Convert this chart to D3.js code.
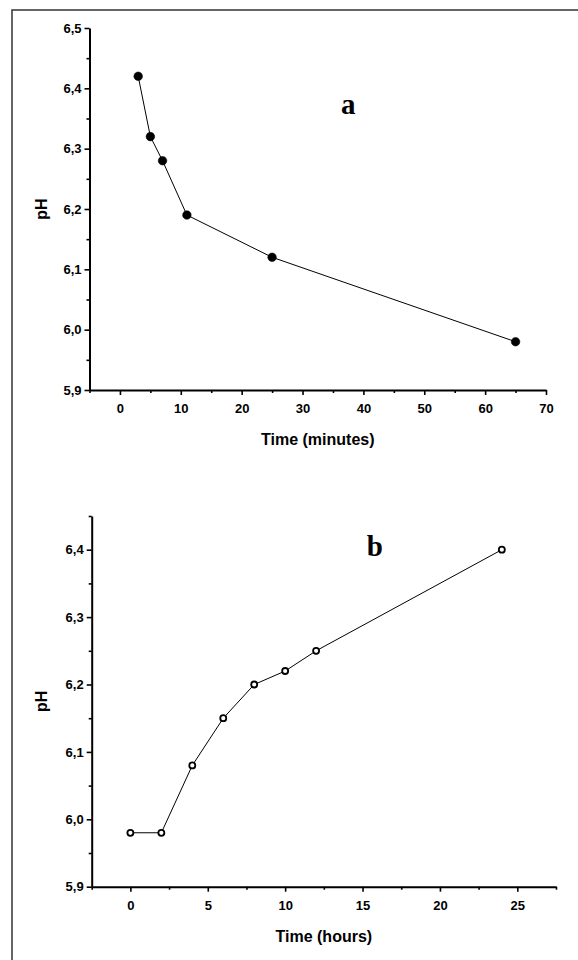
<!DOCTYPE html>
<html>
<head>
<meta charset="utf-8">
<script src="https://cdn.jsdelivr.net/npm/d3@7"></script>
<style>
  html, body { margin: 0; padding: 0; background: #fff; }
  svg { display: block; }
  .tick text { font-family: "Liberation Sans", Arial, sans-serif; font-weight: bold; font-size: 13px; fill: #000; }
  .axis path, .axis line { stroke: #000; }
  .axis path { stroke-width: 2; }
  .axis line { stroke-width: 1.6; }
  .title { font-family: "Liberation Sans", Arial, sans-serif; font-weight: bold; font-size: 16px; fill: #000; }
  .tag { font-family: "Liberation Serif", "Times New Roman", serif; font-weight: bold; font-size: 29px; fill: #000; }
</style>
</head>
<body>
<script>
// panel a : pH vs time in minutes
var minutesA = [3, 5, 7, 11, 25, 65];
var phA = [6.42, 6.32, 6.28, 6.19, 6.12, 5.98];
var xTicksA = [0, 10, 20, 30, 40, 50, 60, 70];
var yTicksA = [5.9, 6.0, 6.1, 6.2, 6.3, 6.4, 6.5];

// panel b : pH vs time in hours
var hoursB = [0, 2, 4, 6, 8, 10, 12, 24];
var phB = [5.98, 5.98, 6.08, 6.15, 6.20, 6.22, 6.25, 6.40];
var xTicksB = [0, 5, 10, 15, 20, 25];
var yTicksB = [5.9, 6.0, 6.1, 6.2, 6.3, 6.4];

var W = 578, H = 960;
var svg = d3.select("body").append("svg").attr("width", W).attr("height", H);

// page frame (left and top edges only)
svg.append("path")
    .attr("d", "M12," + H + "V10H" + W)
    .attr("fill", "none").attr("stroke", "#333").attr("stroke-width", 1.5);

var comma = d3.formatLocale({decimal: ",", thousands: ".", grouping: [3], currency: ["", ""]});
var fmtY = comma.format(".1f");

function panel(opt) {
    var x = d3.scaleLinear().domain(opt.xDom).range(opt.xRange);
    var y = d3.scaleLinear().domain(opt.yDom).range(opt.yRange);
    var g = svg.append("g");

    // minor ticks
    g.append("g").attr("class", "axis")
        .attr("transform", "translate(0," + opt.yRange[0] + ")")
        .call(d3.axisBottom(x).tickValues(opt.xMinor).tickSize(3).tickFormat(""))
        .select(".domain").remove();
    g.append("g").attr("class", "axis")
        .attr("transform", "translate(" + opt.xRange[0] + ",0)")
        .call(d3.axisLeft(y).tickValues(opt.yMinor).tickSize(3).tickFormat(""))
        .select(".domain").remove();

    // main axes
    g.append("g").attr("class", "axis")
        .attr("transform", "translate(0," + opt.yRange[0] + ")")
        .call(d3.axisBottom(x).tickValues(opt.xTicks).tickSize(5).tickSizeOuter(0).tickPadding(9).tickFormat(d3.format("d")));
    g.append("g").attr("class", "axis")
        .attr("transform", "translate(" + opt.xRange[0] + ",0)")
        .call(d3.axisLeft(y).tickValues(opt.yTicks).tickSize(5).tickSizeOuter(0).tickPadding(3).tickFormat(fmtY));

    // axis titles
    g.append("text").attr("class", "title")
        .attr("x", (opt.xRange[0] + opt.xRange[1]) / 2)
        .attr("y", opt.yRange[0] + 55)
        .attr("text-anchor", "middle")
        .text(opt.xTitle);
    g.append("text").attr("class", "title")
        .attr("transform", "translate(" + 47 + "," + ((opt.yRange[0] + opt.yRange[1]) / 2) + ") rotate(-90)")
        .attr("text-anchor", "middle")
        .text("pH");

    // panel letter
    g.append("text").attr("class", "tag")
        .attr("x", x(opt.tagAt[0])).attr("y", y(opt.tagAt[1]))
        .attr("text-anchor", "middle")
        .text(opt.tag);

    var pts = opt.xs.map(function(d, i) { return [d, opt.ys[i]]; });
    var line = d3.line().x(function(d) { return x(d[0]); }).y(function(d) { return y(d[1]); });
    g.append("path").datum(pts)
        .attr("d", line)
        .attr("fill", "none").attr("stroke", "#000").attr("stroke-width", 1);

    g.selectAll("circle.pt").data(pts).enter().append("circle")
        .attr("class", "pt")
        .attr("cx", function(d) { return x(d[0]); })
        .attr("cy", function(d) { return y(d[1]); })
        .attr("r", opt.filled ? 4.3 : 3)
        .attr("fill", opt.filled ? "#000" : "#fff")
        .attr("stroke", "#000")
        .attr("stroke-width", opt.filled ? 0.5 : 1.8);
}

panel({
    xs: minutesA, ys: phA,
    xDom: [-5, 70], xRange: [89.5, 546],
    yDom: [5.9, 6.5], yRange: [390, 28],
    xTicks: xTicksA, yTicks: yTicksA,
    xMinor: [-5, 5, 15, 25, 35, 45, 55, 65],
    yMinor: [5.95, 6.05, 6.15, 6.25, 6.35, 6.45],
    xTitle: "Time (minutes)",
    tag: "a", tagAt: [37.5, 6.357],
    filled: true
});

panel({
    xs: hoursB, ys: phB,
    xDom: [-2.5, 27.5], xRange: [91.7, 556],
    yDom: [5.9, 6.45], yRange: [886.7, 516],
    xTicks: xTicksB, yTicks: yTicksB,
    xMinor: [-2.5, 2.5, 7.5, 12.5, 17.5, 22.5, 27.5],
    yMinor: [5.95, 6.05, 6.15, 6.25, 6.35, 6.45],
    xTitle: "Time (hours)",
    tag: "b", tagAt: [15.8, 6.39],
    filled: false
});
</script>
</body>
</html>
